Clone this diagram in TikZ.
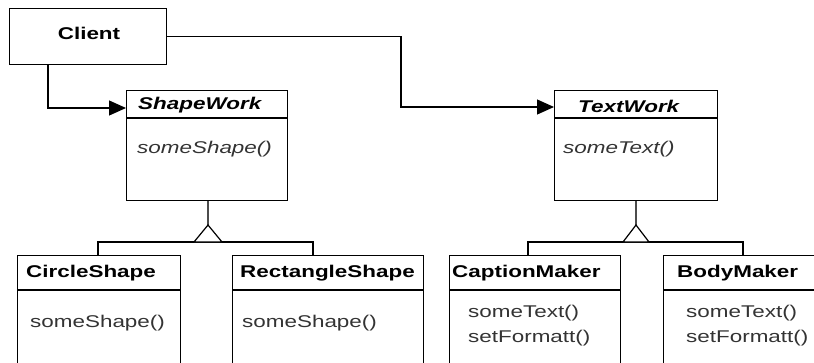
\documentclass[tikz,border=0pt]{standalone}
\usepackage{fontspec}
\setmainfont{Liberation Sans}[FakeStretch=1.32]
\usetikzlibrary{arrows.meta}

\begin{document}
\begin{tikzpicture}[x=1pt,y=-1pt,
  box/.style={draw, line width=1.2pt, anchor=north west, inner sep=0pt},
  title/.style={anchor=base west, inner sep=0pt, font=\fontsize{17}{20}\selectfont\bfseries},
  abstitle/.style={title, font=\fontsize{17}{20}\selectfont\bfseries\itshape},
  method/.style={anchor=base west, inner sep=0pt, font=\fontsize{17}{20}\selectfont, text=black!80},
  absmethod/.style={method, font=\fontsize{17}{20}\selectfont\itshape},
  assoc/.style={line width=1.2pt, -{Triangle[length=17pt,width=15pt]}},
  gen/.style={line width=1.2pt},
  stem/.style={line width=1.7pt, gray!60!black}]
\useasboundingbox (0,0) rectangle (814,362);
\clip (0,0) rectangle (814,362);

% classes
\node[box, minimum width=157pt, minimum height=56pt] (Client) at (9,8) {};
\node[box, minimum width=161pt, minimum height=110pt] (ShapeWork) at (126,90) {};
\node[box, minimum width=163pt, minimum height=110pt] (TextWork) at (554,90) {};
\node[box, minimum width=163pt, minimum height=130pt] (CircleShape) at (17,255) {};
\node[box, minimum width=191pt, minimum height=130pt] (RectangleShape) at (232,255) {};
\node[box, minimum width=171pt, minimum height=130pt] (CaptionMaker) at (449,255) {};
\node[box, minimum width=171pt, minimum height=130pt] (BodyMaker) at (663,255) {};

\foreach \n/\d in {ShapeWork/28, TextWork/28, CircleShape/35, RectangleShape/35, CaptionMaker/35, BodyMaker/35}
  \draw[gen] ([yshift=-\d pt]\n.north west) -- ([yshift=-\d pt]\n.north east);

% names and operations
\node[title, anchor=base] (ClientName) at (89,39) {Client};
\node[abstitle] (ShapeWorkName) at (138,109) {ShapeWork};
\node[absmethod] (ShapeWorkOp) at (137,153) {someShape()};
\node[abstitle] (TextWorkName) at (578,112) {TextWork};
\node[absmethod] (TextWorkOp) at (563,153) {someText()};
\node[title] (CircleName) at (26,277) {CircleShape};
\node[method] (CircleOp) at (30,327) {someShape()};
\node[title] (RectangleName) at (240,277) {RectangleShape};
\node[method] (RectangleOp) at (242,327) {someShape()};
\node[title] (CaptionName) at (452,277) {CaptionMaker};
\node[method] (CaptionOpA) at (468,317) {someText()};
\node[method] (CaptionOpB) at (468,342) {setFormatt()};
\node[title] (BodyName) at (677,277) {BodyMaker};
\node[method] (BodyOpA) at (686,317) {someText()};
\node[method] (BodyOpB) at (686,342) {setFormatt()};

% associations
\coordinate (cbend) at (48,108);
\coordinate (tbend) at (401,107);
\draw[assoc] (Client.south -| cbend) -- (cbend) -- (cbend -| ShapeWork.west);
\draw[assoc] (Client.east) -| (tbend) -- (tbend -| TextWork.west);

% generalizations
\coordinate (sapex) at (208,225);
\coordinate (sleft) at (98,242);
\coordinate (sright) at (313,242);
\draw[stem] (ShapeWork.south -| sapex) -- (sapex);
\draw[gen] (sleft |- CircleShape.north) -- (sleft) -- (sright) -- (sright |- RectangleShape.north);
\draw[gen, fill=white] (sapex) -- ++(14,17) -- ++(-28,0) -- cycle;

\coordinate (tapex) at (636,225);
\coordinate (tleft) at (528,242);
\coordinate (tright) at (743,242);
\draw[stem] (TextWork.south -| tapex) -- (tapex);
\draw[gen] (tleft |- CaptionMaker.north) -- (tleft) -- (tright) -- (tright |- BodyMaker.north);
\draw[gen, fill=white] (tapex) -- ++(13,17) -- ++(-26,0) -- cycle;

\end{tikzpicture}
\end{document}
